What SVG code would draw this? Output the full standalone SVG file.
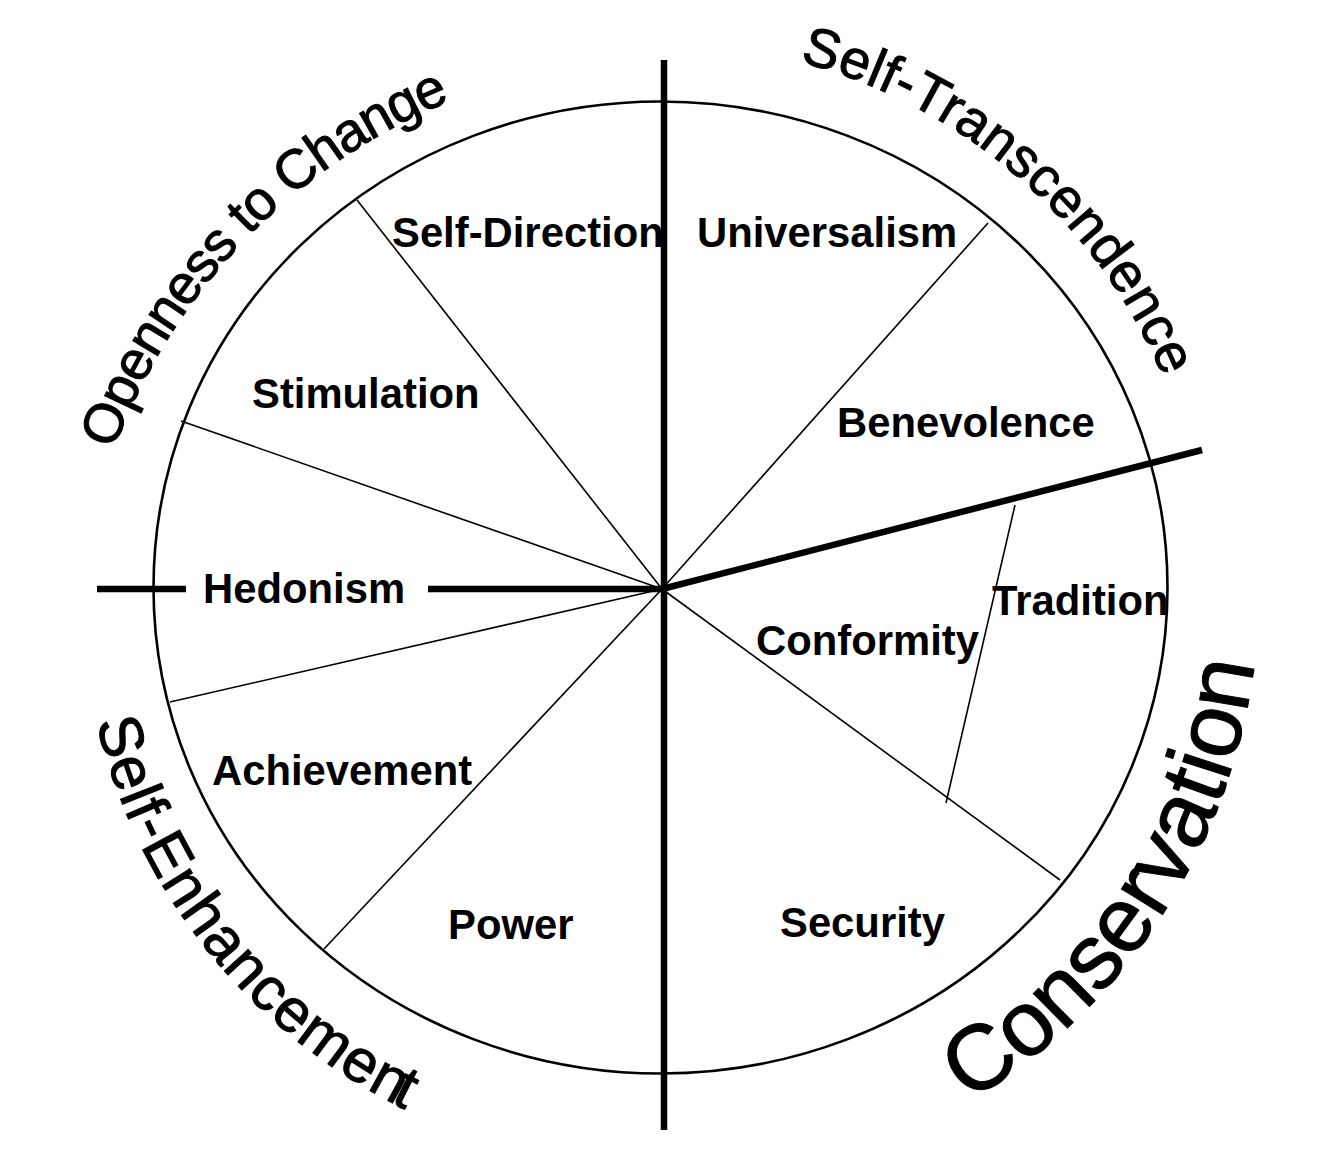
<svg xmlns="http://www.w3.org/2000/svg" xmlns:xlink="http://www.w3.org/1999/xlink" width="1318" height="1174" viewBox="0 0 1318 1174">
<style>
.rim{fill:none;stroke:#000;stroke-width:2.6}
.spoke{stroke:#000;stroke-width:1.6;fill:none}
.axis{stroke:#000;stroke-width:6.5;fill:none}
.lbl{font-family:"Liberation Sans",Arial,Helvetica,sans-serif;font-weight:bold;font-size:41.8px;fill:#000}
.arc{font-family:"Liberation Sans",Arial,Helvetica,sans-serif;font-weight:normal;fill:#000;stroke:#000;stroke-width:1}
</style>
<defs>
<path id="openArc" d="M 78 654 A 597 597 0 0 1 1272 654"/>
<path id="topArc" d="M 116 589 A 545 545 0 0 1 1206 589"/>
<path id="enhArc" d="M 81 589 A 580 580 0 0 0 1241 589"/>
<path id="conArc" d="M 63 589 A 598 598 0 0 0 1259 589"/>
</defs>
<rect width="1318" height="1174" fill="#fff"/>
<g id="wheel">
<ellipse class="rim" cx="660.5" cy="587.5" rx="507" ry="486"/>
</g>
<g id="connectors">
<line class="spoke" x1="662" y1="589" x2="357" y2="200"/>
<line class="spoke" x1="662" y1="589" x2="181" y2="421"/>
<line class="spoke" x1="662" y1="589" x2="170" y2="702"/>
<line class="spoke" x1="662" y1="589" x2="324" y2="949"/>
<line class="spoke" x1="662" y1="589" x2="988" y2="223"/>
<line class="spoke" x1="662" y1="589" x2="1060" y2="880"/>
<line class="spoke" x1="1015" y1="505" x2="946" y2="803"/>
<line class="axis" x1="664" y1="60" x2="664" y2="1130"/>
<line class="axis" x1="97" y1="589" x2="186" y2="589"/>
<line class="axis" x1="428" y1="589" x2="664" y2="589"/>
<line class="axis" x1="662" y1="589" x2="1202" y2="450"/>
</g>
<g id="node-self-direction"><text class="lbl" x="392" y="247">Self-Direction</text></g>
<g id="node-universalism"><text class="lbl" x="697" y="247">Universalism</text></g>
<g id="node-stimulation"><text class="lbl" x="252" y="408">Stimulation</text></g>
<g id="node-benevolence"><text class="lbl" x="837" y="437">Benevolence</text></g>
<g id="node-hedonism"><text class="lbl" x="203" y="603">Hedonism</text></g>
<g id="node-tradition"><text class="lbl" x="992" y="615">Tradition</text></g>
<g id="node-conformity"><text class="lbl" x="756" y="655">Conformity</text></g>
<g id="node-achievement"><text class="lbl" x="212" y="785">Achievement</text></g>
<g id="node-power"><text class="lbl" x="448" y="939">Power</text></g>
<g id="node-security"><text class="lbl" x="780" y="937">Security</text></g>
<g id="group-openness"><text class="arc" font-size="55" letter-spacing="-1.2"><textPath xlink:href="#openArc" href="#openArc" startOffset="208">Openness to Change</textPath></text></g>
<g id="group-self-transcendence"><text class="arc" font-size="55" letter-spacing="0.5"><textPath xlink:href="#topArc" href="#topArc" startOffset="996">Self-Transcendence</textPath></text></g>
<g id="group-self-enhancement"><text class="arc" font-size="61" letter-spacing="1.2"><textPath xlink:href="#enhArc" href="#enhArc" startOffset="134">Self-Enhancemen<tspan dx="-8">t</tspan></textPath></text></g>
<g id="group-conservation"><text class="arc" font-size="92" stroke-width="1.5"><textPath xlink:href="#conArc" href="#conArc" startOffset="1262">Conservation</textPath></text></g>
</svg>
